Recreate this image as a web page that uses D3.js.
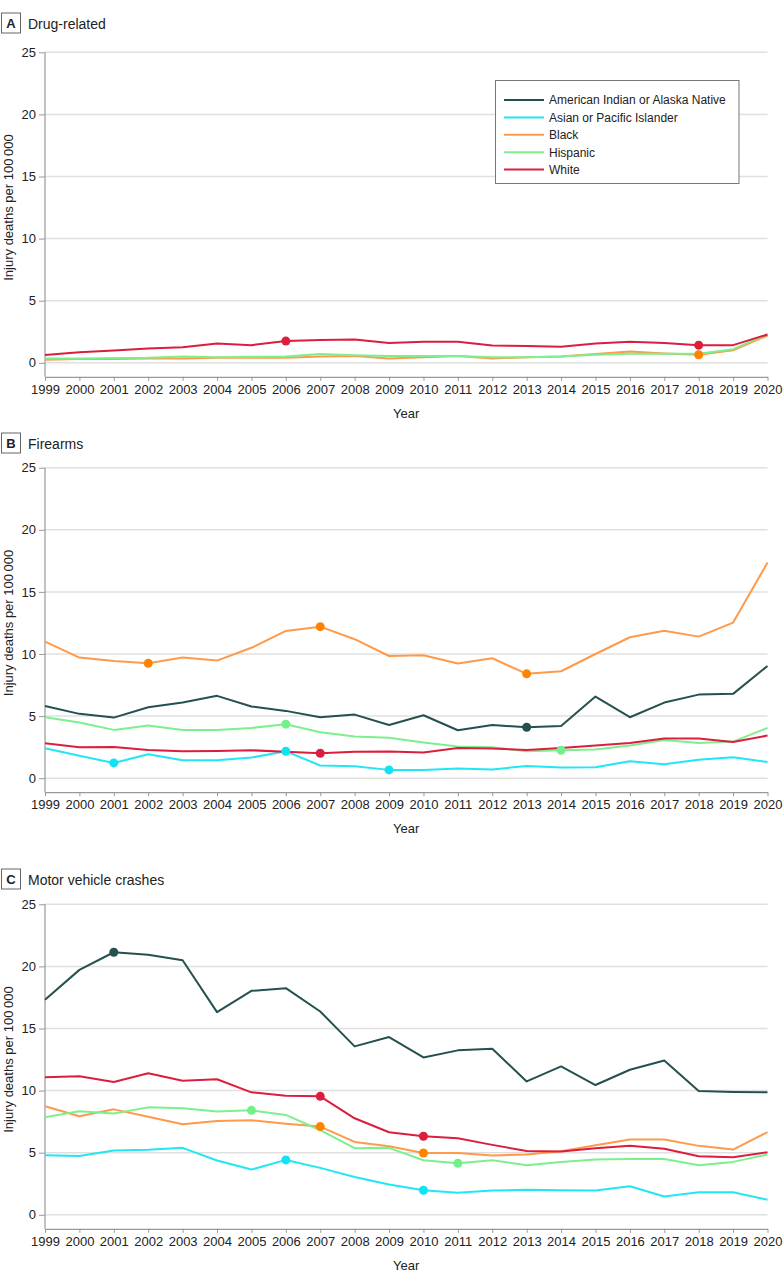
<!DOCTYPE html>
<html>
<head>
<meta charset="utf-8">
<script src="https://cdn.jsdelivr.net/npm/d3@7"></script>
<style>
  html, body { margin: 0; padding: 0; background: #fff; }
  svg { display: block; font-family: "Liberation Sans", Arial, sans-serif; }
</style>
</head>
<body>
<svg id="chart" width="783" height="1284"></svg>
<script>
// ---- Data ----
const years = d3.range(1999, 2021);
const seriesNames = ["American Indian or Alaska Native", "Asian or Pacific Islander", "Black", "Hispanic", "White"];
const seriesColors = ["#24514f", "#22e6f4", "#ff9a4a", "#7cf08f", "#dc1e3e"];
const dotColors = ["#24514f", "#10e4f4", "#ff8300", "#72f08a", "#dc1e3e"];
const yTicks = [0, 5, 10, 15, 20, 25];
const panelLetters = ["A", "B", "C"];
const panelTitles = ["Drug-related", "Firearms", "Motor vehicle crashes"];

// Panel A: Drug-related (AIAN and API not shown)
const drugAIAN = null;
const drugAPI = null;
const drugBlack = [0.25,0.3,0.3,0.35,0.35,0.4,0.4,0.4,0.5,0.55,0.35,0.45,0.55,0.35,0.45,0.5,0.7,0.9,0.75,0.65,1.0,2.2];
const drugHispanic = [0.35,0.35,0.38,0.4,0.5,0.45,0.48,0.5,0.7,0.6,0.55,0.55,0.55,0.45,0.45,0.5,0.65,0.72,0.72,0.72,1.1,2.3];
const drugWhite = [0.62,0.85,1.0,1.15,1.25,1.55,1.42,1.75,1.83,1.88,1.6,1.7,1.7,1.4,1.35,1.3,1.55,1.7,1.6,1.42,1.42,2.28];

// Panel B: Firearms
const fireAIAN = [5.82,5.18,4.88,5.71,6.09,6.63,5.77,5.42,4.91,5.12,4.29,5.07,3.86,4.29,4.1,4.21,6.57,4.91,6.09,6.73,6.79,9.04];
const fireAPI = [2.41,1.8,1.23,1.93,1.45,1.45,1.66,2.17,1.02,0.97,0.67,0.67,0.78,0.7,0.99,0.86,0.89,1.37,1.13,1.48,1.69,1.31];
const fireBlack = [11.0,9.71,9.44,9.25,9.71,9.47,10.5,11.86,12.2,11.19,9.84,9.9,9.23,9.66,8.4,8.61,10.0,11.35,11.88,11.4,12.53,17.36];
const fireHispanic = [4.91,4.48,3.89,4.24,3.89,3.89,4.05,4.35,3.7,3.35,3.25,2.87,2.55,2.49,2.17,2.25,2.31,2.63,3.08,2.84,2.95,4.05];
const fireWhite = [2.82,2.49,2.52,2.28,2.17,2.2,2.25,2.12,2.01,2.12,2.15,2.07,2.44,2.39,2.28,2.44,2.63,2.84,3.19,3.19,2.92,3.43];

// Panel C: Motor vehicle crashes
const mvcAIAN = [17.31,19.72,21.14,20.93,20.5,16.32,18.03,18.25,16.37,13.56,14.31,12.67,13.24,13.37,10.74,11.95,10.45,11.68,12.43,9.97,9.89,9.86];
const mvcAPI = [4.8,4.74,5.17,5.23,5.39,4.37,3.64,4.42,3.78,3.05,2.44,1.98,1.77,1.96,2.01,1.98,1.96,2.3,1.47,1.82,1.82,1.21];
const mvcBlack = [8.74,7.93,8.49,7.9,7.29,7.56,7.61,7.34,7.1,5.87,5.52,4.98,4.98,4.77,4.85,5.12,5.6,6.06,6.06,5.55,5.25,6.65];
const mvcHispanic = [7.85,8.33,8.15,8.65,8.57,8.31,8.41,8.04,6.81,5.36,5.39,4.39,4.15,4.39,3.99,4.26,4.45,4.5,4.5,3.99,4.26,4.85];
const mvcWhite = [11.07,11.15,10.69,11.39,10.8,10.91,9.86,9.59,9.54,7.77,6.65,6.32,6.16,5.63,5.14,5.09,5.36,5.55,5.31,4.72,4.64,5.04];

// Marked years (joinpoints) per series, per panel
const drugMarks = [[], [], [2018], [], [2006, 2018]];
const fireMarks = [[2013], [2001, 2006, 2009], [2002, 2007, 2013], [2006, 2014], [2007]];
const mvcMarks = [[2001], [2006, 2010], [2007, 2010], [2005, 2011], [2007, 2010]];

const panelSeries = [
  [drugAIAN, drugAPI, drugBlack, drugHispanic, drugWhite],
  [fireAIAN, fireAPI, fireBlack, fireHispanic, fireWhite],
  [mvcAIAN, mvcAPI, mvcBlack, mvcHispanic, mvcWhite]
];
const panelMarks = [drugMarks, fireMarks, mvcMarks];

// ---- Layout ----
const svg = d3.select("#chart");
const plotLeft = 45, plotRight = 767.5, plotH = 310.5;
const plotTops = [52.3, 467.7, 904.3];
const boxTops = [13, 433, 869];
const axisGap = 14;

const x = d3.scalePoint().domain(years).range([plotLeft, plotRight]);
const drawOrder = [0, 1, 2, 3, 4];

panelSeries.forEach((series, p) => {
  const top = plotTops[p];
  const y = d3.scaleLinear().domain([0, 25]).range([top + plotH, top]);
  const g = svg.append("g");
  const axisY = y(0) + axisGap;

  // title box + letter
  g.append("rect").attr("x", 1.5).attr("y", boxTops[p]).attr("width", 19).attr("height", 20)
    .attr("fill", "#fff").attr("stroke", "#666").attr("stroke-width", 1);
  g.append("text").attr("x", 11).attr("y", boxTops[p] + 15).attr("text-anchor", "middle")
    .attr("font-size", 13).attr("font-weight", "bold").attr("fill", "#222").text(panelLetters[p]);
  g.append("text").attr("x", 28).attr("y", boxTops[p] + 15.5)
    .attr("font-size", 14).attr("fill", "#222").text(panelTitles[p]);

  // gridlines
  g.append("g").selectAll("line").data(yTicks).join("line")
    .attr("x1", plotLeft).attr("x2", plotRight)
    .attr("y1", d => y(d)).attr("y2", d => y(d))
    .attr("stroke", "#e0e0e0").attr("stroke-width", 1.5);

  // y axis
  const yAxis = g.append("g").attr("transform", `translate(${plotLeft},0)`)
    .call(d3.axisLeft(y).tickValues(yTicks).tickSize(6).tickPadding(3));
  yAxis.select(".domain").remove();
  yAxis.append("line").attr("x1", 0).attr("x2", 0).attr("y1", top).attr("y2", axisY)
    .attr("stroke", "#999").attr("stroke-width", 1.2);
  yAxis.selectAll(".tick line").attr("stroke", "#999");
  yAxis.selectAll(".tick text").attr("font-size", 13).attr("fill", "#222")
    .attr("font-family", "Liberation Sans, Arial, sans-serif");

  // x axis
  const xAxis = g.append("g").attr("transform", `translate(0,${axisY})`)
    .call(d3.axisBottom(x).tickSize(4).tickPadding(4).tickSizeOuter(0));
  xAxis.select(".domain").attr("stroke", "#999").attr("stroke-width", 1.2);
  xAxis.selectAll(".tick line").attr("stroke", "#999");
  xAxis.selectAll(".tick text").attr("font-size", 13).attr("fill", "#222")
    .attr("font-family", "Liberation Sans, Arial, sans-serif");

  // axis titles
  g.append("text").attr("x", (plotLeft + plotRight) / 2).attr("y", axisY + 41)
    .attr("text-anchor", "middle").attr("font-size", 13).attr("fill", "#222").text("Year");
  g.append("text")
    .attr("transform", `translate(13,${top + plotH / 2}) rotate(-90)`)
    .attr("text-anchor", "middle").attr("font-size", 13).attr("fill", "#222")
    .text("Injury deaths per 100\u2009000");

  // lines
  const line = d3.line().x((d, i) => x(years[i])).y(d => y(d));
  drawOrder.forEach(s => {
    const vals = series[s];
    if (!vals) return;
    g.append("path").datum(vals).attr("d", line)
      .attr("fill", "none").attr("stroke", seriesColors[s]).attr("stroke-width", 2)
      .attr("stroke-linejoin", "round");
  });
  // dots
  drawOrder.forEach(s => {
    const vals = series[s];
    if (!vals) return;
    const marks = panelMarks[p][s];
    g.append("g").selectAll("circle").data(marks).join("circle")
      .attr("cx", d => x(d)).attr("cy", d => y(vals[years.indexOf(d)]))
      .attr("r", 4.5).attr("fill", dotColors[s]);
  });
});

// ---- Legend (panel A) ----
const leg = svg.append("g");
leg.append("rect").attr("x", 495.5).attr("y", 80.5).attr("width", 243.5).attr("height", 103)
  .attr("fill", "#fff").attr("stroke", "#777").attr("stroke-width", 1);
seriesNames.forEach((name, i) => {
  const ly = 100 + i * 17.4;
  leg.append("line").attr("x1", 504).attr("x2", 544).attr("y1", ly).attr("y2", ly)
    .attr("stroke", seriesColors[i]).attr("stroke-width", 2);
  leg.append("text").attr("x", 549).attr("y", ly + 4.3).attr("font-size", 12).attr("fill", "#222").text(name);
});
</script>
</body>
</html>
